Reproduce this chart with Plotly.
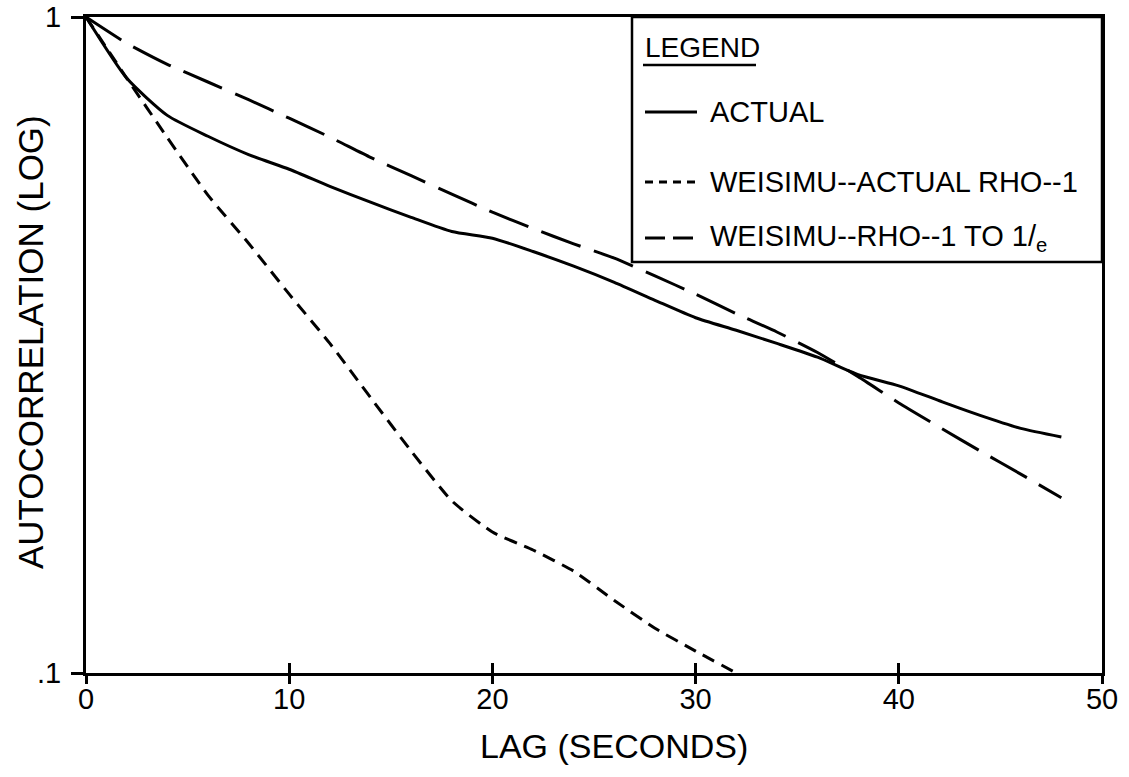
import plotly.graph_objects as go

# Lag (seconds) and autocorrelation values for each series
lag = [0, 2, 4, 6, 8, 10, 12, 14, 16, 18, 20, 22, 24,
       26, 28, 30, 32, 34, 36, 38, 40, 42, 44, 46, 48]

actual = [1.000, 0.807, 0.708, 0.658, 0.617, 0.586, 0.552, 0.522, 0.495,
          0.471, 0.460, 0.439, 0.417, 0.394, 0.370, 0.348, 0.333, 0.318,
          0.303, 0.285, 0.274, 0.260, 0.247, 0.236, 0.229]

lag_rho1 = [0, 2, 4, 6, 8, 10, 12, 14, 16, 18, 20, 22, 24, 26, 28, 30, 32]
weisimu_actual_rho1 = [1.000, 0.807, 0.655, 0.535, 0.452, 0.378, 0.318,
                       0.263, 0.218, 0.183, 0.164, 0.154, 0.143, 0.129,
                       0.117, 0.108, 0.100]

weisimu_rho1_to_e = [1.000, 0.912, 0.847, 0.796, 0.748, 0.701, 0.656, 0.611,
                     0.573, 0.537, 0.504, 0.476, 0.451, 0.429, 0.403, 0.378,
                     0.353, 0.331, 0.308, 0.283, 0.258, 0.237, 0.218, 0.201,
                     0.185]

x_ticks = [0, 10, 20, 30, 40, 50]
y_ticks = [0.1, 1]
y_tick_text = [".1", "1"]

series_names = ["ACTUAL", "WEISIMU--ACTUAL RHO--1",
                "WEISIMU--RHO--1 TO 1/<sub>e</sub>"]

FONT = "Liberation Sans, Arial, sans-serif"
W, H = 1129, 777
ML, MR, MT, MB = 86, 27, 17, 104
PW, PH = W - ML - MR, H - MT - MB


def px(x):
    return (x - ML) / PW


def py(y):
    return (H - MB - y) / PH


SHORT_DASH = "13px,8px"
LONG_DASH = "42px,14px"

fig = go.Figure()
fig.add_trace(go.Scatter(x=lag, y=actual, mode="lines", name=series_names[0],
                         line=dict(color="black", width=3, shape="spline",
                                   smoothing=0.6)))
fig.add_trace(go.Scatter(x=lag_rho1, y=weisimu_actual_rho1, mode="lines",
                         name=series_names[1],
                         line=dict(color="black", width=3, dash=SHORT_DASH,
                                   shape="spline", smoothing=0.5)))
fig.add_trace(go.Scatter(x=lag, y=weisimu_rho1_to_e, mode="lines",
                         name=series_names[2],
                         line=dict(color="black", width=3, dash=LONG_DASH,
                                   shape="spline", smoothing=0.5)))
# invisible trace anchoring the overlay axis used for inward tick marks
fig.add_trace(go.Scatter(x=[x_ticks[0], x_ticks[-1]], y=[y_ticks[0], y_ticks[-1]],
                         xaxis="x2", mode="markers", showlegend=False,
                         marker=dict(opacity=0), hoverinfo="skip"))

fig.update_layout(
    width=W, height=H,
    margin=dict(l=ML, r=MR, t=MT, b=MB, autoexpand=False),
    paper_bgcolor="white", plot_bgcolor="white",
    showlegend=False,
    font=dict(family=FONT, color="black"),
    xaxis=dict(range=[0, 50], tickvals=x_ticks, ticks="outside", ticklen=8,
               tickwidth=2.5, tickcolor="black", showline=True, linewidth=3,
               linecolor="black", mirror=True, showgrid=False, zeroline=False,
               automargin=False,
               tickfont=dict(size=29, family=FONT), ticklabelstandoff=-10),
    xaxis2=dict(range=[0, 50], overlaying="x", tickvals=x_ticks[1:-1],
                ticks="inside", ticklen=10, tickwidth=3, tickcolor="black",
                showticklabels=False, showline=False, showgrid=False,
                zeroline=False, side="bottom", automargin=False),
    yaxis=dict(type="log", range=[-1, 0], tickvals=y_ticks,
               ticktext=y_tick_text, ticks="outside", ticklen=12,
               tickwidth=2.5, tickcolor="black", showline=True, linewidth=3,
               linecolor="black", mirror=True, showgrid=False, zeroline=False,
               automargin=False,
               tickfont=dict(size=29, family=FONT), ticklabelstandoff=4),
)

annotations = [
    dict(text="LAG (SECONDS)", x=0.52, y=py(746), xref="paper", yref="paper",
         showarrow=False, xanchor="center", yanchor="middle",
         font=dict(size=34, family=FONT)),
    dict(text="AUTOCORRELATION (LOG)", x=px(30), y=py(342), xref="paper",
         yref="paper", showarrow=False, textangle=-90, xanchor="center",
         yanchor="middle", font=dict(size=35, family=FONT)),
    dict(text="LEGEND", x=px(643), y=py(48), xref="paper", yref="paper",
         showarrow=False, xanchor="left", yanchor="middle",
         font=dict(size=28, family=FONT)),
]

row_y = [112, 182, 238]
for name, yy in zip(series_names, row_y):
    annotations.append(dict(text=name, x=px(708), y=py(yy), xref="paper",
                            yref="paper", showarrow=False, xanchor="left",
                            yanchor="middle", font=dict(size=29, family=FONT)))

shapes = [
    # legend frame
    dict(type="rect", xref="paper", yref="paper", x0=px(632), x1=1,
         y0=py(262), y1=1, line=dict(color="black", width=2.5)),
    # underline of the legend heading
    dict(type="line", xref="paper", yref="paper", x0=px(643), x1=px(756),
         y0=py(65), y1=py(65), line=dict(color="black", width=2.5)),
]
sample_dash = ["solid", "8px,6px", "20px,8px"]
for dash, yy in zip(sample_dash, row_y):
    shapes.append(dict(type="line", xref="paper", yref="paper", x0=px(645),
                       x1=px(697), y0=py(yy), y1=py(yy),
                       line=dict(color="black", width=3, dash=dash)))

fig.update_layout(annotations=annotations, shapes=shapes)

fig.write_html("out.html")
